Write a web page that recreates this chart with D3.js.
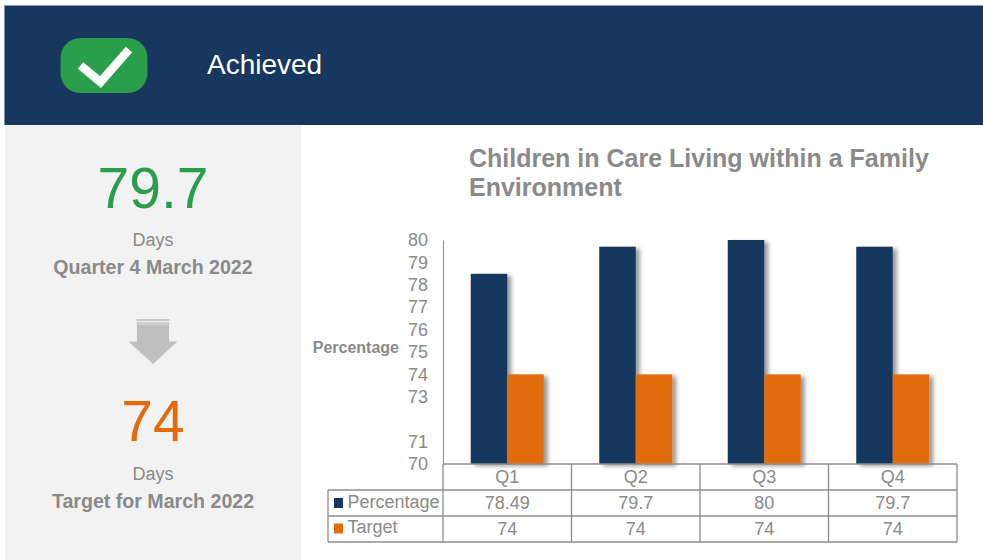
<!DOCTYPE html>
<html><head><meta charset="utf-8">
<script src="https://cdn.jsdelivr.net/npm/d3@7"></script>
<style>html,body{margin:0;padding:0;background:#fff}svg{display:block}text{font-family:"Liberation Sans",Arial,sans-serif}</style>
</head><body><div id="c"></div>
<script>
const quarters = ["Q1","Q2","Q3","Q4"];
const percentage = [78.49,79.7,80,79.7];
const target = [74,74,74,74];
const percentageLabels = ["78.49","79.7","80","79.7"];
const targetLabels = ["74","74","74","74"];
const seriesNames = ["Percentage","Target"];
const yTicks = [70,71,73,74,75,76,77,78,79,80];
const titleLines = ["Children in Care Living within a Family","Environment"];

const navy="#17375e", orange="#e36c0a", green="#2a9e4b", grey="#8a8a8a", line="#8c8c8c";
const svg=d3.select("#c").append("svg").attr("width",983).attr("height",560);
const defs=svg.append("defs");
const f=defs.append("filter").attr("id","sh").attr("x","-20%").attr("y","-10%").attr("width","150%").attr("height","125%");
f.append("feGaussianBlur").attr("in","SourceAlpha").attr("stdDeviation",2.2).attr("result","b");
f.append("feOffset").attr("in","b").attr("dx",3.5).attr("dy",2).attr("result","o");
f.append("feComponentTransfer").attr("in","o").attr("result","s").append("feFuncA").attr("type","linear").attr("slope",.4);
const m=f.append("feMerge");m.append("feMergeNode").attr("in","s");m.append("feMergeNode").attr("in","SourceGraphic");

// header + side panel
svg.append("rect").attr("x",5).attr("y",125).attr("width",296).attr("height",435).attr("fill","#f2f2f2");
svg.append("rect").attr("x",4).attr("y",5.5).attr("width",979).attr("height",119.5).attr("fill",navy);
svg.append("rect").attr("x",4).attr("y",6).attr("width",1).attr("height",119).attr("fill","#7d93b0");
svg.append("rect").attr("x",60.5).attr("y",38).attr("width",87).attr("height",55).attr("rx",20).attr("fill",green);
svg.append("path").attr("d","M80.5,65.5L100.5,82L129,49.5").attr("fill","none").attr("stroke","#fff").attr("stroke-width",8.5);
svg.append("text").attr("x",207).attr("y",74).attr("font-size",28).attr("fill","#fff").text("Achieved");

// side panel text
const side=(x,y,s,c,w,t)=>svg.append("text").attr("x",x).attr("y",y).attr("text-anchor","middle").attr("font-size",s).attr("fill",c).attr("font-weight",w).text(t);
side(153,208,57,green,"normal","79.7");
side(153,246,18,grey,"normal","Days");
side(153,274,19.6,grey,"bold","Quarter 4 March 2022");
side(153,441,57,orange,"normal","74");
side(153,480,18,grey,"normal","Days");
side(153,508,19.6,grey,"bold","Target for March 2022");

// arrow
svg.append("path").attr("d","M137,324H169V341.5H177.5L153,364L128.5,341.5H137Z").attr("fill","#bfbfbf");
svg.append("rect").attr("x",136.5).attr("y",319).attr("width",33).attr("height",2).attr("fill","#c8c8c8");
svg.append("rect").attr("x",136.5).attr("y",322).attr("width",33).attr("height",3).attr("fill","#cfcfcf");

// title
svg.append("text").attr("font-size",25).attr("font-weight","bold").attr("fill",grey)
 .selectAll("tspan").data(titleLines).join("tspan").attr("x",469).attr("y",(d,i)=>166.5+i*29).text(d=>d);

// chart
const y=d3.scaleLinear().domain([70,80]).range([464,240]);
const x0=d3.scaleBand().domain(quarters).range([443,957]);
const x1=d3.scaleBand().domain(seriesNames).range([0,x0.step()]).paddingInner(0).paddingOuter(.76);
const color=d3.scaleOrdinal().domain(seriesNames).range([navy,orange]);
const values={Percentage:percentage,Target:target};

const yAxis=d3.axisLeft(y).tickValues(yTicks).tickFormat(d3.format("d")).tickSize(0).tickPadding(15);
const ga=svg.append("g").attr("transform","translate(443,0)").call(yAxis);
ga.select(".domain").attr("stroke",line).attr("stroke-width",1);
ga.selectAll("text").attr("font-size",18).attr("fill",grey).attr("dy","0.32em");

svg.append("text").attr("x",399).attr("y",353).attr("text-anchor","end").attr("font-size",16).attr("font-weight","bold").attr("fill",grey).text("Percentage");

seriesNames.forEach(n=>{
  svg.append("g").attr("filter","url(#sh)").selectAll("rect").data(quarters).join("rect")
   .attr("x",(q)=>x0(q)+x1(n))
   .attr("width",x1.bandwidth())
   .attr("y",(q,i)=>y(values[n][i]))
   .attr("height",(q,i)=>y(70)-y(values[n][i]))
   .attr("fill",color(n));
});

// data table
const rows=[464,490,516,542];
const t=svg.append("g").attr("stroke",line).attr("stroke-width",1.3);
t.append("line").attr("x1",443).attr("x2",957).attr("y1",rows[0]).attr("y2",rows[0]);
[1,2,3].forEach(i=>t.append("line").attr("x1",328).attr("x2",957).attr("y1",rows[i]).attr("y2",rows[i]));
t.append("line").attr("x1",328).attr("x2",328).attr("y1",rows[1]).attr("y2",rows[3]);
t.append("line").attr("x1",443).attr("x2",443).attr("y1",rows[0]).attr("y2",rows[3]);
quarters.forEach(q=>t.append("line").attr("x1",x0(q)+x0.step()).attr("x2",x0(q)+x0.step()).attr("y1",rows[0]).attr("y2",rows[3]));
const cell=(xx,yy,s,anchor)=>svg.append("text").attr("x",xx).attr("y",yy).attr("text-anchor",anchor||"middle").attr("font-size",18).attr("fill",grey).text(s);
quarters.forEach((q,i)=>{
  const cx=x0(q)+x1("Target");
  cell(cx,483,q);
  cell(cx,509,percentageLabels[i]);
  cell(cx,535,targetLabels[i]);
});
seriesNames.forEach((n,i)=>{
  svg.append("rect").attr("x",334).attr("y",498+i*25.5).attr("width",9).attr("height",10).attr("fill",color(n));
  cell(347.5,508+i*26-(i?1:0),n,"start");
});
</script></body></html>
